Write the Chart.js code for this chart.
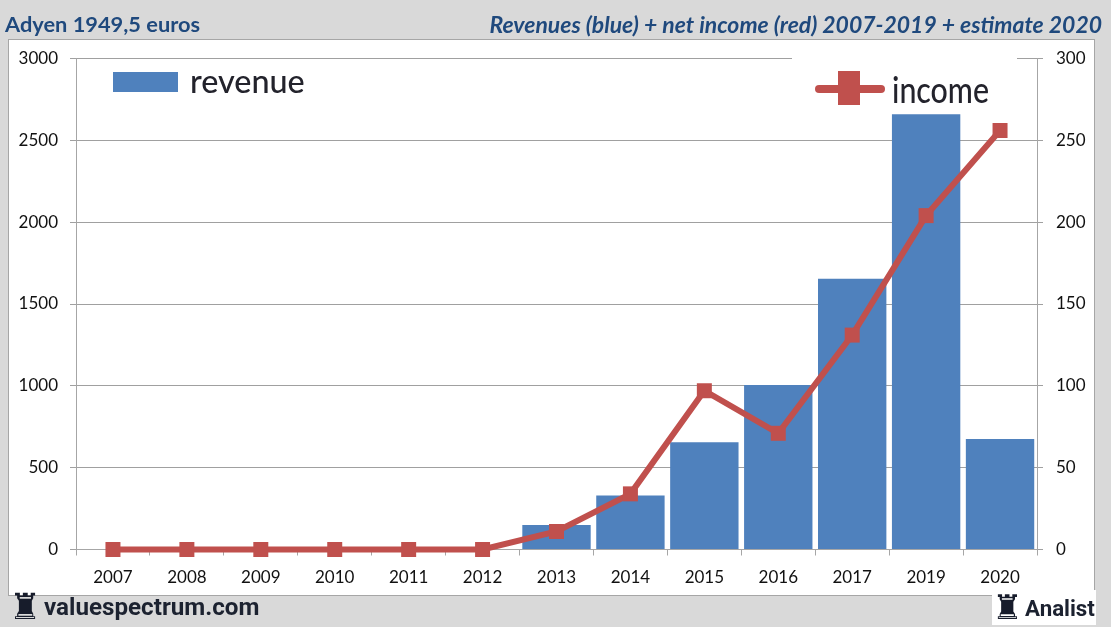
<!DOCTYPE html>
<html><head><meta charset="utf-8">
<script src="https://cdn.jsdelivr.net/npm/chart.js@4"></script>
<style>
html,body{margin:0;padding:0;width:1111px;height:627px;overflow:hidden;background:#d9d9d9}
#panel{position:absolute;left:9px;top:40px;width:1085px;height:555px;background:#fff;box-shadow:0 0 0 1px #a6a6a6}
#wrap{position:absolute;left:0;top:0;width:1111px;height:627px}
.t{position:absolute;white-space:nowrap;font-family:Lato,sans-serif}
.title{color:#1f497d;font-weight:700;line-height:26px;top:11px}
.foot{color:#1c2230;font-family:Roboto,sans-serif;font-weight:700;line-height:30px}
.lg{color:#23232c;font-weight:500;line-height:40px;transform-origin:left top;filter:blur(.4px)}
.rook{position:absolute;color:#171c2b;font-family:"DejaVu Sans",sans-serif;line-height:34px}
</style></head><body>
<div id="panel"></div>
<div id="wrap"><canvas id="c" width="1111" height="627"></canvas></div>
<div class="t" style="left:792px;top:50px;width:225px;height:57px;background:#fff"></div>
<div class="t title" style="left:5px;font-size:21.8px">Adyen 1949,5 euros</div>
<div class="t title" style="right:9px;font-size:22.95px;font-style:italic">Revenues (blue) + net income (red) 2007-2019 + estimate 2020</div>
<div class="t" style="left:113px;top:72px;width:65px;height:20px;background:#4f81bd"></div>
<div class="t lg" style="left:190px;top:60px;font-size:33px;transform:scaleX(.98)">revenue</div>
<div class="t" style="left:815px;top:85px;width:70px;height:8px;border-radius:4px;background:#c0504d"></div>
<div class="t" style="left:838px;top:71px;width:22px;height:34px;background:#c0504d"></div>
<div class="t lg" style="left:892px;top:69px;font-size:37px;transform:scaleX(.82)">income</div>
<div class="rook" style="left:9px;top:590px;font-size:36px">♜</div>
<div class="t foot" style="left:44px;top:592px;font-size:24.2px">valuespectrum.com</div>
<div class="t" style="left:992px;top:590px;width:104px;height:35px;background:#fff"></div>
<div class="rook" style="left:992px;top:590px;font-size:34px">♜</div>
<div class="t foot" style="left:1025px;top:593px;font-size:22.3px">Analist</div>
<script>
const categories=["2007","2008","2009","2010","2011","2012","2013","2014","2015","2016","2017","2019","2020"];
const revenue=[0,0,0,0,0,0,150,330,655,1005,1655,2660,675];
const income=[0,0,0,0,0,0,11,34,97,71,131,204,256];
const fontTick={family:"Lato",size:17};
const plain=v=>String(v);
new Chart(document.getElementById('c'),{
  type:'bar',
  data:{labels:categories,datasets:[
    {type:'line',label:'income',data:income,yAxisID:'y2',order:1,clip:false,borderColor:'#c0504d',backgroundColor:'#c0504d',borderWidth:6,pointStyle:'rect',pointRadius:10.6,pointBorderWidth:0,pointHoverRadius:10.6,tension:0},
    {type:'bar',label:'revenue',data:revenue,yAxisID:'y',order:2,backgroundColor:'#4f81bd',barPercentage:.925,categoryPercentage:1}
  ]},
  options:{
    responsive:false,animation:false,
    layout:{padding:{top:58.5,left:0,right:0,bottom:0}},
    plugins:{legend:{display:false},title:{display:false},tooltip:{enabled:false}},
    scales:{
      x:{afterFit(s){s.height=77.5},
        grid:{drawOnChartArea:false,color:'#a6a6a6',tickLength:6,offset:true},
        border:{color:'#a6a6a6'},
        ticks:{color:'#111',font:fontTick,padding:12,maxRotation:0,autoSkip:false}},
      y:{position:'left',min:0,max:3000,afterFit(s){s.width=76},
        grid:{color:'#a0a0a0',tickLength:6},border:{color:'#a6a6a6'},
        ticks:{stepSize:500,color:'#111',font:fontTick,padding:12,callback:plain}},
      y2:{position:'right',min:0,max:300,afterFit(s){s.width=74},
        grid:{drawOnChartArea:false,color:'#a0a0a0',tickLength:6},border:{color:'#a6a6a6'},
        ticks:{stepSize:50,color:'#111',font:fontTick,padding:13,callback:plain}}
    }
  }
});
</script>
</body></html>
